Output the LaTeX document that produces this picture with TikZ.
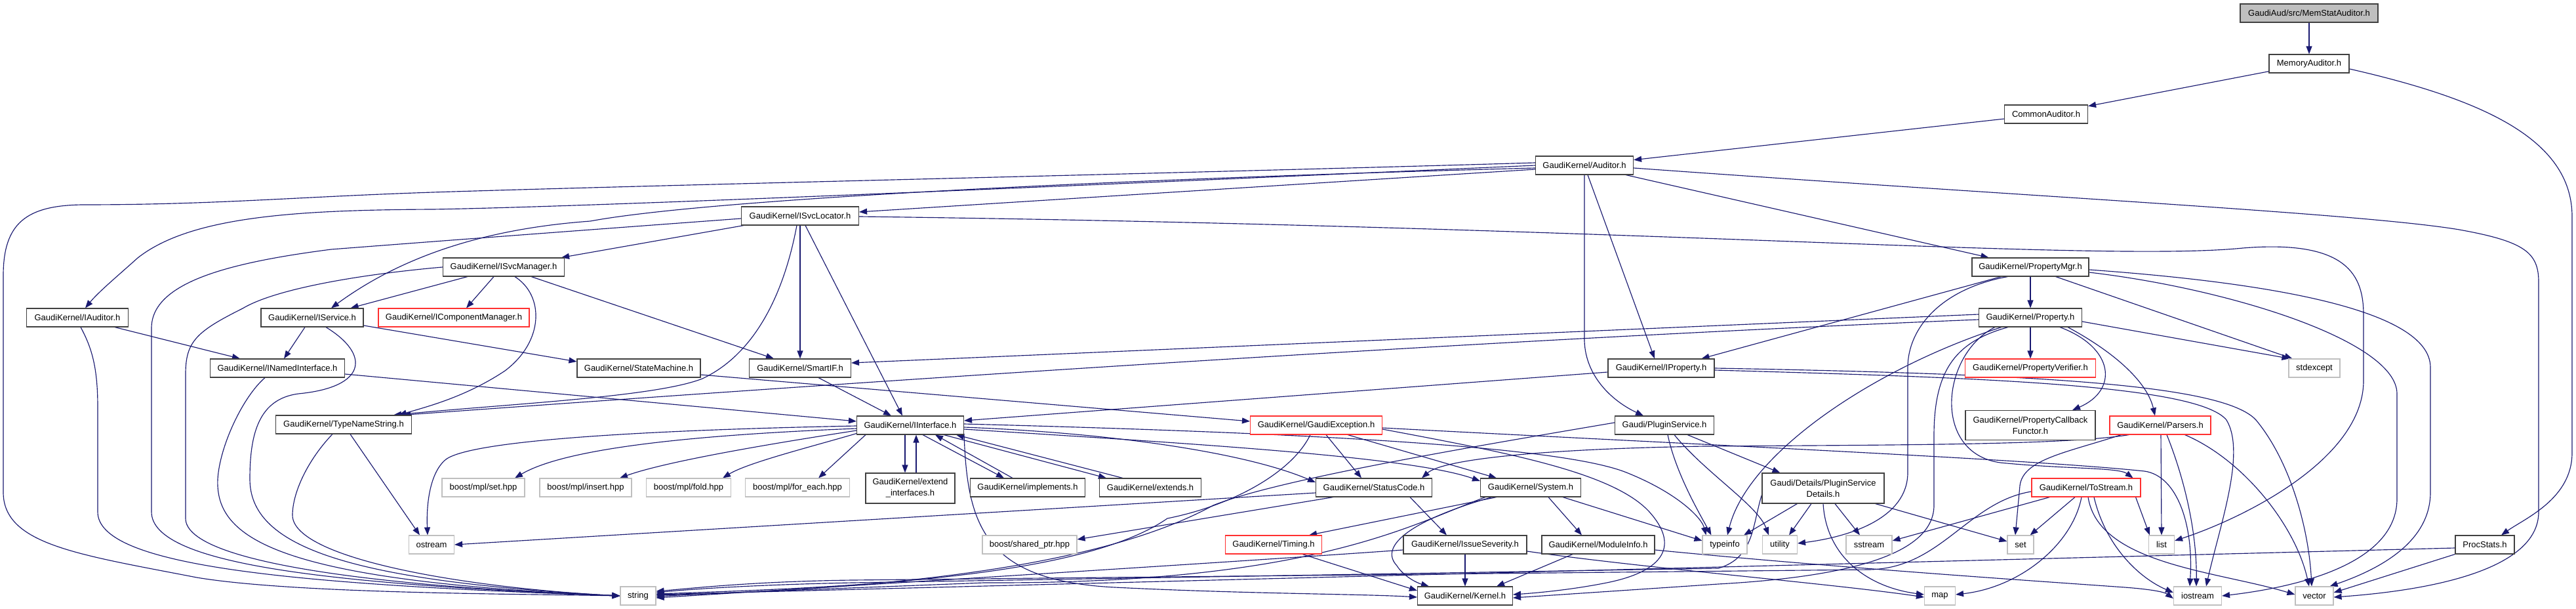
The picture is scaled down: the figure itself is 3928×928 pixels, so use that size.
\documentclass[tikz,border=0pt]{standalone}
\usepackage{fontspec}
\newfontfamily\labfont{Liberation Sans}
\usetikzlibrary{arrows.meta,calc}
\definecolor{edgec}{HTML}{191970}
\definecolor{lgray}{HTML}{BFBFBF}
\definecolor{dgray}{HTML}{404040}
\definecolor{redb}{HTML}{FF3030}
\pgfdeclarelayer{bg}
\pgfsetlayers{bg,main}
\tikzset{
 nd/.style={draw=dgray, line width=1.1pt, fill=white, minimum height=28pt, inner sep=0pt, font=\labfont\fontsize{13}{17}\selectfont, align=center},
 sysn/.style={nd, draw=lgray},
 redn/.style={nd, draw=redb},
 rootn/.style={nd, fill=lgray},
 e/.style={draw=edgec, line width=1.15pt, -{Triangle[length=12pt,width=9pt]}},
}
\begin{document}
\begin{tikzpicture}[x=1pt,y=-1pt]
\useasboundingbox (0,0) rectangle (3928,928);
% nodes
\node[rootn,minimum width=210pt] (root) at (3521,20) {GaudiAud/src/MemStatAuditor.h};
\node[nd,minimum width=122pt] (memaud) at (3521,97) {MemoryAuditor.h};
\node[nd,minimum width=127pt] (common) at (3120,174) {CommonAuditor.h};
\node[nd,minimum width=149pt] (auditor) at (2416,252) {GaudiKernel/Auditor.h};
\node[nd,minimum width=179pt] (isvcloc) at (1220,329) {GaudiKernel/ISvcLocator.h};
\node[nd,minimum width=185pt] (isvcmgr) at (768,407) {GaudiKernel/ISvcManager.h};
\node[nd,minimum width=178pt] (propmgr) at (3096,407) {GaudiKernel/PropertyMgr.h};
\node[nd,minimum width=155pt] (iauditor) at (118,484) {GaudiKernel/IAuditor.h};
\node[nd,minimum width=156pt] (iservice) at (476,484) {GaudiKernel/IService.h};
\node[redn,minimum width=230pt] (icompmgr) at (692,484) {GaudiKernel/IComponentManager.h};
\node[nd,minimum width=157pt] (property) at (3096,484) {GaudiKernel/Property.h};
\node[nd,minimum width=205pt] (inamed) at (423,561) {GaudiKernel/INamedInterface.h};
\node[nd,minimum width=188pt] (statemach) at (974,561) {GaudiKernel/StateMachine.h};
\node[nd,minimum width=155pt] (smartif) at (1220,561) {GaudiKernel/SmartIF.h};
\node[nd,minimum width=162pt] (iproperty) at (2533,561) {GaudiKernel/IProperty.h};
\node[redn,minimum width=199pt] (propverif) at (3096,561) {GaudiKernel/PropertyVerifier.h};
\node[sysn,minimum width=78pt] (stdexcept) at (3529,561) {stdexcept};
\node[nd,minimum width=207pt] (typename) at (524,647) {GaudiKernel/TypeNameString.h};
\node[nd,minimum width=163pt] (iinterface) at (1388,648) {GaudiKernel/IInterface.h};
\node[redn,minimum width=201pt] (gexc) at (2007,648) {GaudiKernel/GaudiException.h};
\node[nd,minimum width=151pt] (pluginsvc) at (2538,648) {Gaudi/PluginService.h};
\node[nd,minimum width=198pt,minimum height=45pt] (propcb) at (3096,648) {GaudiKernel/PropertyCallback\\Functor.h};
\node[redn,minimum width=154pt] (parsers) at (3294,648) {GaudiKernel/Parsers.h};
\node[nd,minimum width=136pt,minimum height=46pt] (extif) at (1388,744) {GaudiKernel/extend\\\_interfaces.h};
\node[nd,minimum width=175pt] (impl) at (1567,743) {GaudiKernel/implements.h};
\node[nd,minimum width=155pt] (extends) at (1754,743) {GaudiKernel/extends.h};
\node[sysn,minimum width=126pt] (mplset) at (737,743) {boost/mpl/set.hpp};
\node[sysn,minimum width=140pt] (mplins) at (893,743) {boost/mpl/insert.hpp};
\node[sysn,minimum width=129pt] (mplfold) at (1050,743) {boost/mpl/fold.hpp};
\node[sysn,minimum width=159pt] (mplfe) at (1216,743) {boost/mpl/for\_each.hpp};
\node[nd,minimum width=177pt] (statuscode) at (2095,743) {GaudiKernel/StatusCode.h};
\node[nd,minimum width=153pt] (system) at (2334,743) {GaudiKernel/System.h};
\node[nd,minimum width=186pt,minimum height=46pt] (pluginsd) at (2780,744) {Gaudi/Details/PluginService\\Details.h};
\node[redn,minimum width=166pt] (tostream) at (3181,743) {GaudiKernel/ToStream.h};
\node[sysn,minimum width=69pt] (ostream) at (658,830) {ostream};
\node[sysn,minimum width=144pt] (sharedptr) at (1570,830) {boost/shared\_ptr.hpp};
\node[redn,minimum width=147pt] (timing) at (1942,830) {GaudiKernel/Timing.h};
\node[nd,minimum width=188pt] (issue) at (2234,830) {GaudiKernel/IssueSeverity.h};
\node[nd,minimum width=172pt] (modinfo) at (2437,830) {GaudiKernel/ModuleInfo.h};
\node[sysn,minimum width=68pt] (typeinfo) at (2630,830) {typeinfo};
\node[sysn,minimum width=53pt] (utility) at (2714,830) {utility};
\node[sysn,minimum width=70pt] (sstream) at (2850,830) {sstream};
\node[sysn,minimum width=40pt] (set) at (3081,830) {set};
\node[sysn,minimum width=39pt] (list) at (3296,830) {list};
\node[nd,minimum width=90pt] (procst) at (3789,830) {ProcStats.h};
\node[sysn,minimum width=54pt] (string) at (973,908) {string};
\node[nd,minimum width=145pt] (kernel) at (2234,908) {GaudiKernel/Kernel.h};
\node[sysn,minimum width=47pt] (map) at (2958,908) {map};
\node[sysn,minimum width=73pt] (iostream) at (3351,908) {iostream};
\node[sysn,minimum width=58pt] (vector) at (3529,908) {vector};

\begin{pgfonlayer}{bg}
% top
\draw[e] (root) -- (memaud);
\draw[e] (memaud) -- (common);
\draw[e] ($(memaud.east)+(0,8)$) .. controls (3780,150) and (3922,210) .. (3922,330) -- (3922,690) .. controls (3922,760) and (3850,790) .. ($(procst.north)+(25,0)$);
\draw[e] (common) -- (auditor);
% Auditor
\draw[e] ($(auditor.west)+(0,-4)$) .. controls (1800,264) and (1000,282) .. (660,293) .. controls (450,300) and (330,312) .. (126,312) .. controls (40,313) and (5,340) .. (5,420) -- (5,750) .. controls (5,830) and (120,845) .. (300,880) .. controls (450,905) and (800,905) .. (string.west);
\draw[e] (auditor.west) .. controls (1600,285) and (900,315) .. (660,319) .. controls (450,320) and (290,330) .. (210,393) .. controls (180,420) and (150,445) .. ($(iauditor.north)+(12,0)$);
\draw[e] ($(auditor.west)+(0,4)$) .. controls (1800,270) and (1100,300) .. (900,337) .. controls (720,350) and (600,400) .. ($(iservice.north)+(29,0)$);
\draw[e] ($(auditor.west)+(0,6)$) -- ($(isvcloc.east)+(0,-6)$);
\draw[e] ($(auditor.south east)+(-12,0)$) -- ($(propmgr.north west)+(26,0)$);
\draw[e] ($(auditor.south)+(5,0)$) -- ($(iproperty.north)+(-10,0)$);
\draw[e] (auditor.south) -- (2416,520) .. controls (2418,575) and (2460,612) .. ($(pluginsvc.north)+(-32,0)$);
\draw[e] ($(auditor.east)+(0,4)$) .. controls (3100,300) and (3600,325) .. (3750,350) .. controls (3850,368) and (3871,385) .. (3871,430) -- (3871,780) .. controls (3871,870) and (3700,900) .. ($(vector.east)+(0,2)$);
% ISvcLocator
\draw[e] ($(isvcloc.south west)+(4,0)$) -- ($(isvcmgr.north east)+(-5,0)$);
\draw[e] (isvcloc) -- (smartif);
\draw[e] ($(isvcloc.south)+(8,0)$) -- ($(iinterface.north)+(-12,0)$);
\draw[e] ($(isvcloc.south)+(-5,0)$) .. controls (1195,450) and (1150,540) .. (1071,577) .. controls (1000,605) and (780,615) .. ($(typename.north east)+(-28,0)$);
\draw[e] ($(isvcloc.west)+(0,4)$) .. controls (900,350) and (700,365) .. (505,380) .. controls (350,400) and (231,430) .. (231,500) -- (231,780) .. controls (231,860) and (500,890) .. (string.west);
\draw[e] ($(isvcloc.east)+(0,1)$) .. controls (2500,345) and (3200,400) .. (3420,378) .. controls (3580,365) and (3604,420) .. (3604,480) -- (3604,580) .. controls (3604,700) and (3420,790) .. ($(list.east)+(0,-6)$);
% ISvcManager
\draw[e] ($(isvcmgr.south west)+(38,0)$) -- ($(iservice.north east)+(-20,0)$);
\draw[e] ($(isvcmgr.south)+(-15,0)$) -- ($(icompmgr.north)+(19,0)$);
\draw[e] ($(isvcmgr.south)+(42,0)$) -- ($(smartif.north west)+(38,0)$);
\draw[e] ($(isvcmgr.south)+(17,0)$) .. controls (830,450) and (830,520) .. (770,565) .. controls (710,605) and (650,620) .. ($(typename.north east)+(-20,0)$);
\draw[e] (isvcmgr.west) .. controls (550,418) and (420,440) .. (370,470) .. controls (300,505) and (283,520) .. (283,570) -- (283,790) .. controls (283,860) and (600,895) .. (string.west);
% IAuditor
\draw[e] ($(iauditor.south east)+(-21,0)$) -- ($(inamed.north west)+(46,0)$);
\draw[e] ($(iauditor.south)+(5,0)$) .. controls (140,530) and (149,560) .. (149,620) -- (149,780) .. controls (149,860) and (420,890) .. (string.west);
% IService
\draw[e] ($(iservice.south)+(-11,0)$) -- ($(inamed.north)+(10,0)$);
\draw[e] ($(iservice.east)+(0,12)$) -- ($(statemach.west)+(0,-10)$);
\draw[e] ($(iservice.south)+(21,0)$) .. controls (565,540) and (560,590) .. (455,600) .. controls (395,608) and (381,660) .. (381,730) .. controls (381,830) and (520,885) .. (string.west);
% INamedInterface
\draw[e] ($(inamed.east)+(0,9)$) -- ($(iinterface.west)+(0,-6)$);
\draw[e] ($(inamed.south)+(-19,0)$) .. controls (370,605) and (335,680) .. (332,730) .. controls (328,820) and (420,885) .. (string.west);
% TypeNameString
\draw[e] ($(typename.south)+(-17,0)$) .. controls (470,700) and (446,750) .. (446,785) .. controls (446,850) and (700,895) .. (string.west);
\draw[e] ($(typename.south)+(10,0)$) -- ($(ostream.north)+(-18,0)$);
% StateMachine, SmartIF
\draw[e] ($(statemach.east)+(0,10)$) -- ($(gexc.west)+(0,-6)$);
\draw[e] ($(smartif.south)+(28,0)$) -- ($(iinterface.north)+(-29,0)$);
% IInterface
\draw[e] ($(iinterface.west)+(0,5)$) .. controls (1000,665) and (850,690) .. ($(mplset.north)+(48,0)$);
\draw[e] ($(iinterface.west)+(0,8)$) .. controls (1150,680) and (1010,705) .. ($(mplins.north)+(52,0)$);
\draw[e] ($(iinterface.south west)+(0,-2)$) .. controls (1240,680) and (1140,705) .. ($(mplfold.north)+(52,0)$);
\draw[e] ($(iinterface.south west)+(14,0)$) -- ($(mplfe.north)+(32,0)$);
\draw[e] ($(iinterface.south)+(-8,0)$) -- ($(extif.north)+(-8,0)$);
\draw[e] ($(extif.north)+(9,0)$) -- ($(iinterface.south)+(9,0)$);
\draw[e] ($(iinterface.south)+(19,0)$) -- ($(impl.north)+(-36,0)$);
\draw[e] ($(impl.north)+(-23,0)$) -- ($(iinterface.south)+(38,0)$);
\draw[e] ($(iinterface.south)+(51,0)$) -- ($(extends.north)+(-67,0)$);
\draw[e] ($(extends.north)+(-42,0)$) -- ($(iinterface.south)+(70,0)$);
\draw[e] ($(iinterface.west)+(0,1)$) .. controls (1000,655) and (720,670) .. (680,700) .. controls (655,720) and (650,770) .. ($(ostream.north)+(-6,0)$);
\draw[e] ($(iinterface.east)+(0,3)$) .. controls (1700,660) and (1900,690) .. ($(statuscode.west)+(0,-8)$);
\draw[e] ($(iinterface.east)+(0,6)$) .. controls (1800,675) and (2150,695) .. ($(system.west)+(0,-10)$);
\draw[e] ($(iinterface.east)+(0,-2)$) .. controls (2000,660) and (2380,680) .. (2480,720) .. controls (2560,752) and (2595,790) .. ($(typeinfo.north west)+(6,0)$);
\draw[e] (iinterface.south east) .. controls (1475,800) and (1500,885) .. (1700,895) .. controls (1900,905) and (2080,905) .. ($(kernel.west)+(0,2)$);
% StatusCode
\draw[e] ($(statuscode.south)+(55,0)$) -- ($(issue.north)+(-28,0)$);
\draw[e] ($(statuscode.west)+(0,8)$) -- (ostream.east);
\draw[e] ($(statuscode.south west)+(27,0)$) -- ($(sharedptr.east)+(0,-8)$);
% GaudiException
\draw[e] ($(gexc.south)+(15,0)$) -- ($(statuscode.north)+(-19,0)$);
\draw[e] ($(gexc.south east)+(-53,0)$) -- ($(system.north)+(-52,0)$);
\draw[e] ($(gexc.south)+(-9,0)$) .. controls (1970,720) and (1880,770) .. (1780,790) .. controls (1650,880) and (1300,895) .. ($(string.east)+(0,-3)$);
\draw[e] ($(gexc.east)+(0,6)$) .. controls (2300,690) and (2460,720) .. (2515,780) .. controls (2560,830) and (2540,870) .. (2450,888) .. controls (2400,898) and (2350,903) .. ($(kernel.east)+(0,-2)$);
\draw[e] ($(gexc.east)+(0,4)$) .. controls (2600,678) and (3100,700) .. (3270,718) .. controls (3320,725) and (3345,800) .. ($(iostream.north)+(-12,0)$);
% System
\draw[e] ($(system.south)+(27,0)$) -- ($(modinfo.north)+(-25,0)$);
\draw[e] ($(system.south west)+(25,0)$) -- ($(timing.north east)+(-20,0)$);
\draw[e] ($(system.south)+(49,0)$) -- ($(typeinfo.west)+(0,-6)$);
\draw[e] ($(system.south west)+(18,0)$) .. controls (2160,790) and (2100,830) .. (2130,862) .. controls (2140,878) and (2160,888) .. ($(kernel.north west)+(18,0)$);
\draw[e] ($(system.south west)+(8,0)$) .. controls (2150,800) and (2000,890) .. (1500,888) .. controls (1250,898) and (1100,903) .. ($(string.east)+(0,1)$);
% Timing
\draw[e] ($(timing.south east)+(-30,0)$) -- ($(kernel.west)+(0,-8)$);
% IssueSeverity
\draw[e] (issue) -- (kernel);
\draw[e] ($(issue.west)+(0,8)$) .. controls (1900,855) and (1500,880) .. ($(string.east)+(0,3)$);
\draw[e] ($(issue.east)+(0,10)$) .. controls (2500,865) and (2800,890) .. ($(map.west)+(0,2)$);
% ModuleInfo
\draw[e] ($(modinfo.south)+(-39,0)$) -- ($(kernel.north east)+(-25,0)$);
\draw[e] ($(modinfo.east)+(0,8)$) .. controls (2800,865) and (3100,885) .. (3240,895) .. controls (3280,898) and (3300,902) .. ($(iostream.west)+(0,4)$);
% PluginService
\draw[e] ($(pluginsvc.south east)+(-41,0)$) -- ($(pluginsd.north west)+(28,0)$);
\draw[e] ($(pluginsvc.south)+(5,0)$) .. controls (2555,720) and (2590,780) .. ($(typeinfo.north west)+(14,0)$);
\draw[e] ($(pluginsvc.south)+(15,0)$) .. controls (2600,720) and (2680,770) .. ($(utility.north)+(-17,0)$);
\draw[e] ($(pluginsvc.west)+(0,-4)$) .. controls (2250,680) and (1950,730) .. (1850,770) .. controls (1650,880) and (1250,900) .. ($(string.east)+(0,-1)$);
% PluginServiceDetails
\draw[e] ($(pluginsd.south west)+(54,0)$) -- ($(typeinfo.north)+(29,0)$);
\draw[e] ($(pluginsd.south)+(-18,0)$) -- ($(utility.north)+(14,0)$);
\draw[e] ($(pluginsd.south)+(18,0)$) -- ($(sstream.north)+(-14,0)$);
\draw[e] (pluginsd.south) .. controls (2785,850) and (2850,895) .. ($(map.west)+(0,-2)$);
\draw[e] ($(pluginsd.south east)+(-14,0)$) -- ($(set.west)+(0,-5)$);
\draw[e] ($(pluginsd.west)+(0,10)$) .. controls (2672,800) and (2675,850) .. (2620,866) -- (1300,888) .. controls (1150,891) and (1050,898) .. ($(string.east)+(0,-5)$);
% Property
\draw[e] (property) -- (propverif);
\draw[e] ($(property.south)+(45,0)$) .. controls (3225,530) and (3230,595) .. ($(propcb.north)+(64,0)$);
\draw[e] ($(property.south east)+(-22,0)$) .. controls (3230,540) and (3275,585) .. ($(parsers.north)+(-8,0)$);
\draw[e] ($(property.south west)+(25,0)$) .. controls (2960,540) and (2945,690) .. (3050,705) .. controls (3150,715) and (3230,712) .. ($(tostream.north east)+(-12,0)$);
\draw[e] ($(property.west)+(0,-5)$) -- ($(smartif.east)+(0,-8)$);
\draw[e] ($(property.west)+(0,3)$) .. controls (2200,520) and (1200,590) .. ($(typename.north east)+(-14,0)$);
\draw[e] ($(property.east)+(0,6)$) -- ($(stdexcept.north west)+(2,0)$);
\draw[e] ($(property.south west)+(35,0)$) .. controls (2860,560) and (2665,690) .. ($(typeinfo.north)+(4,0)$);
\draw[e] ($(property.south west)+(45,0)$) .. controls (2985,520) and (2950,560) .. (2949,660) -- (2949,770) .. controls (2949,850) and (2800,880) .. (2620,890) -- ($(kernel.east)+(0,3)$);
% IProperty
\draw[e] ($(iproperty.west)+(0,6)$) -- ($(iinterface.east)+(0,-7)$);
\draw[e] ($(iproperty.east)+(0,3)$) .. controls (3000,575) and (3350,585) .. (3395,640) .. controls (3425,690) and (3385,800) .. ($(iostream.north)+(13,0)$);
\draw[e] (iproperty.east) .. controls (3100,570) and (3390,585) .. (3440,640) .. controls (3490,700) and (3520,800) .. ($(vector.north)+(-4,0)$);
% PropertyMgr
\draw[e] (propmgr) -- (property);
\draw[e] ($(propmgr.south west)+(45,0)$) -- ($(iproperty.north east)+(-20,0)$);
\draw[e] ($(propmgr.south west)+(55,0)$) .. controls (2960,440) and (2909,500) .. (2909,560) -- (2909,720) .. controls (2909,790) and (2820,818) .. ($(utility.east)+(0,-2)$);
\draw[e] ($(propmgr.south east)+(-51,0)$) -- ($(stdexcept.north west)+(6,0)$);
\draw[e] ($(propmgr.east)+(0,4)$) .. controls (3450,430) and (3706,470) .. (3706,560) -- (3706,750) .. controls (3706,830) and (3620,870) .. ($(vector.north east)+(-6,0)$);
\draw[e] ($(propmgr.east)+(0,8)$) .. controls (3400,440) and (3655,520) .. (3655,600) -- (3655,760) .. controls (3655,860) and (3500,895) .. (iostream.east);
% Parsers
\draw[e] ($(parsers.south)+(1,0)$) -- (list.north);
\draw[e] ($(parsers.south)+(10,0)$) .. controls (3335,740) and (3350,820) .. ($(iostream.north)+(-2,0)$);
\draw[e] ($(parsers.south east)+(-40,0)$) .. controls (3420,700) and (3500,800) .. ($(vector.north)+(-8,0)$);
\draw[e] ($(parsers.south west)+(30,0)$) .. controls (3150,678) and (2900,678) .. (2600,680) .. controls (2350,684) and (2200,700) .. ($(statuscode.north east)+(-16,0)$);
\draw[e] ($(parsers.south west)+(18,0)$) .. controls (3150,690) and (3085,700) .. (3080,740) -- ($(set.north)+(-8,0)$);
% ToStream
\draw[e] ($(tostream.south west)+(28,0)$) -- ($(sstream.east)+(0,-6)$);
\draw[e] ($(tostream.south)+(-17,0)$) -- ($(set.north east)+(-6,0)$);
\draw[e] ($(tostream.south)+(-7,0)$) .. controls (3160,830) and (3080,895) .. ($(map.east)+(0,-2)$);
\draw[e] ($(tostream.south east)+(-8,0)$) -- ($(list.north west)+(2,0)$);
\draw[e] ($(tostream.south)+(12,0)$) .. controls (3210,830) and (3260,880) .. ($(iostream.west)+(0,-5)$);
\draw[e] ($(tostream.south)+(3,0)$) .. controls (3200,860) and (3380,870) .. ($(vector.west)+(0,-2)$);
\draw[e] ($(tostream.west)+(0,6)$) .. controls (3000,765) and (2960,866) .. (2850,868) -- (1300,884) .. controls (1150,886) and (1060,896) .. ($(string.east)+(0,-7)$);
% ProcStats
\draw[e] ($(procst.west)+(0,5)$) -- ($(string.east)+(0,-2)$);
\draw[e] (procst.south west) -- ($(vector.east)+(0,-5)$);
\end{pgfonlayer}
\end{tikzpicture}
\end{document}
